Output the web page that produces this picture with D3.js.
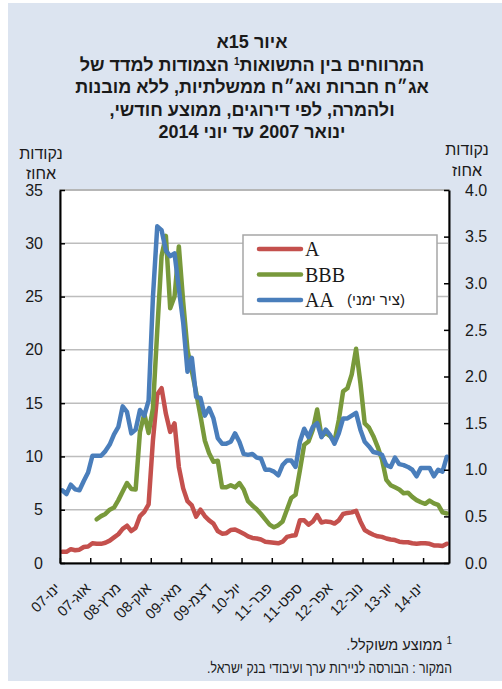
<!DOCTYPE html>
<html>
<head>
<meta charset="utf-8">
<script src="https://cdn.jsdelivr.net/npm/d3@7"></script>
<style>
  body { margin: 0; background: #fff; }
  svg text { fill: #1a1a1a; }
</style>
</head>
<body>
<div id="chart"></div>
<script>
// Month names (Hebrew abbreviations) and years
const monthNames = ["ינו", "פבר", "מרץ", "אפר", "מאי", "יונ", "יול", "אוג", "ספט", "אוק", "נוב", "דצמ"];
const years = ["07", "08", "09", "10", "11", "12", "13", "14"];

// Spreads, monthly average, Jan 2007 - Jun 2014 (A and BBB: left axis, AA: right axis)
const seriesA = [
  1.05, 1.05, 1.3, 1.2, 1.25, 1.5, 1.55, 1.85, 1.8, 1.8, 1.9, 2.1,
  2.4, 2.7, 3.2, 3.5, 3.0, 3.3, 4.4, 4.8, 5.5, 11.5, 15.8, 16.4,
  14.0, 12.3, 13.1, 9.0, 7.0, 5.8, 5.4, 4.35, 5.0, 4.4, 4.0, 3.7,
  3.0, 2.75, 2.8, 3.1, 3.15, 2.95, 2.75, 2.5, 2.35, 2.3, 2.2, 2.0,
  1.95, 1.9, 1.85, 2.0, 2.45, 2.55, 2.6, 4.0, 4.0, 3.6, 3.9, 4.5,
  3.8, 3.9, 3.85, 3.7, 4.0, 4.6, 4.7, 4.75, 4.9, 3.9, 3.1, 2.85,
  2.65, 2.5, 2.45, 2.3, 2.2, 2.15, 2.0, 1.95, 1.95, 1.85, 1.8, 1.85,
  1.85, 1.8, 1.65, 1.65, 1.6, 1.8
];
const seriesBBB = [
  null, null, null, null, null, null, null, null, 4.1, 4.4, 4.6, 5.0,
  5.2, 5.9, 6.7, 7.5, 6.95, 6.9, 12.3, 14.0, 12.2, 14.5, 21.8, 28.8,
  30.7, 23.9, 25.0, 29.7, 24.5, 20.0, 18.0, 16.0, 13.8, 11.5, 10.3, 9.5,
  9.6, 7.1, 7.1, 7.3, 7.1, 7.5, 6.9, 5.8, 5.4, 5.05, 4.6, 4.1,
  3.6, 3.35, 3.55, 3.9, 5.0, 6.1, 6.4, 8.7, 11.1, 11.4, 12.5, 14.4,
  11.9, 12.2, 11.9, 11.4, 13.4, 16.1, 16.4, 17.7, 20.1, 16.9, 13.1, 12.7,
  11.9, 10.9, 9.7, 7.8, 7.3, 7.1, 6.9, 6.55, 6.6, 6.2, 5.9, 5.7,
  5.55, 5.85, 5.6, 5.45, 4.75, 4.65
];
const seriesAA = [
  0.78, 0.74, 0.84, 0.79, 0.78, 0.88, 0.97, 1.15, 1.15, 1.15, 1.2, 1.27,
  1.38, 1.46, 1.68, 1.62, 1.39, 1.43, 1.64, 1.58, 1.74, 2.85, 3.61, 3.57,
  3.35, 3.29, 3.32, 2.94, 2.58, 2.05, 2.2, 1.78, 1.77, 1.58, 1.66, 1.55,
  1.34, 1.28, 1.28, 1.3, 1.39, 1.3, 1.17, 1.16, 1.17, 1.13, 1.12, 1.0,
  1.0, 0.98, 0.94, 1.05, 1.1, 1.1, 1.03, 1.3, 1.44, 1.35, 1.46, 1.5,
  1.35, 1.43, 1.37, 1.28, 1.39, 1.55, 1.55, 1.58, 1.61, 1.43, 1.3, 1.25,
  1.19, 1.18, 1.16, 1.05, 1.03, 1.13, 1.06, 1.05, 1.03, 1.0, 0.93, 1.02,
  1.02, 1.02, 0.93, 1.0, 0.98, 1.14
];

const leftTicks = [0, 5, 10, 15, 20, 25, 30, 35];
const rightTicks = [0, 0.5, 1, 1.5, 2, 2.5, 3, 3.5, 4];
const labelEvery = 7;

const titleLines = [
  "איור 15א",
  "המרווחים בין התשואות",
  "אג\u05F4ח חברות ואג\u05F4ח ממשלתיות, ללא מובנות",
  "ולהמרה, לפי דירוגים, ממוצע חודשי,",
  "ינואר 2007 עד יוני 2014"
];

const SANS = '"Liberation Sans", Arial, sans-serif';
const SERIF = '"Liberation Serif", "Times New Roman", serif';

// Categories: one per month
const categories = [];
years.forEach((y) => monthNames.forEach((m) => categories.push(m + "-" + y)));
categories.length = seriesA.length;

const width = 502;
const height = 689;
const plot = { left: 60, right: 449, top: 190, bottom: 563 };

const svg = d3
  .select("#chart")
  .append("svg")
  .attr("width", width)
  .attr("height", height)
  .style("font-family", SANS);

// Panel background
svg.append("rect").attr("x", 8).attr("y", 3).attr("width", 494).attr("height", 678).attr("fill", "#dce4f0");

// Title
const title = svg.append("g").attr("font-weight", "bold").attr("font-size", 18);
title.selectAll("text")
  .data(titleLines)
  .enter()
  .append("text")
  .attr("x", 252)
  .attr("y", (d, i) => 48 + i * 22.6)
  .attr("direction", "rtl")
  .attr("text-anchor", "middle")
  .each(function (d, i) {
    const t = d3.select(this);
    if (i === 1) {
      t.append("tspan").text(d);
      t.append("tspan").text("1").attr("font-size", 10).attr("dy", -6);
      t.append("tspan").text(" הצמודות למדד של").attr("dy", 6);
    } else {
      t.text(d);
    }
  });

// Unit labels
[[41, 154, "נקודות"], [41, 174, "אחוז"], [467, 150, "נקודות"], [467, 171, "אחוז"]].forEach((u) => {
  svg.append("text").attr("x", u[0]).attr("y", u[1] + 5).attr("text-anchor", "middle")
    .attr("direction", "rtl").attr("font-size", 16).text(u[2]);
});

// Scales
const x = d3.scaleBand().domain(d3.range(categories.length)).range([plot.left, plot.right]);
const xc = (i) => x(i) + x.bandwidth() / 2;
const xEdge = d3.scaleLinear().domain([0, categories.length]).range([plot.left, plot.right]);
const yL = d3.scaleLinear().domain([0, 35]).range([plot.bottom, plot.top]);
const yR = d3.scaleLinear().domain([0, 4]).range([plot.bottom, plot.top]);

// Plot area
svg.append("rect")
  .attr("x", plot.left).attr("y", plot.top)
  .attr("width", plot.right - plot.left).attr("height", plot.bottom - plot.top)
  .attr("fill", "#fff").attr("stroke", "#8c8c8c").attr("stroke-width", 1.5);

// Gridlines
svg.append("g")
  .selectAll("line")
  .data(leftTicks.filter((d) => d > 0))
  .enter()
  .append("line")
  .attr("x1", plot.left).attr("x2", plot.right)
  .attr("y1", (d) => yL(d)).attr("y2", (d) => yL(d))
  .attr("stroke", "#bdbdbd").attr("stroke-width", 1.5);

// Lines
const line = (scale) => d3.line()
  .defined((d) => d != null)
  .x((d, i) => xc(i))
  .y((d) => scale(d));

[[seriesA, yL, "#c4504d"], [seriesBBB, yL, "#78993b"], [seriesAA, yR, "#4a7ebb"]].forEach((s) => {
  svg.append("path")
    .datum(s[0])
    .attr("fill", "none")
    .attr("stroke", s[2])
    .attr("stroke-width", 4.5)
    .attr("stroke-linejoin", "round")
    .attr("stroke-linecap", "round")
    .attr("d", line(s[1]));
});

// Axes
const styleAxis = (g) => {
  g.attr("font-family", null).attr("font-size", null);
  g.selectAll(".domain").attr("stroke", "#000").attr("stroke-width", 2);
  g.selectAll(".tick line").attr("stroke", "#000").attr("stroke-width", 1.5);
  g.selectAll("text").attr("font-size", 16).attr("fill", "#1a1a1a");
};

svg.append("g")
  .attr("transform", `translate(${plot.left},0)`)
  .call(d3.axisLeft(yL).tickValues(leftTicks).tickSize(-5).tickSizeOuter(0).tickPadding(17))
  .call(styleAxis);

svg.append("g")
  .attr("transform", `translate(${plot.right},0)`)
  .call(d3.axisRight(yR).tickValues(rightTicks).tickFormat(d3.format(".1f")).tickSize(-5).tickSizeOuter(0).tickPadding(16))
  .call(styleAxis);

svg.append("g")
  .attr("transform", `translate(0,${plot.bottom})`)
  .call(d3.axisBottom(xEdge).tickValues(d3.range(0, categories.length, labelEvery)).tickSize(-5).tickSizeOuter(0).tickFormat(""))
  .call(styleAxis);

// Category labels, rotated
svg.append("g")
  .selectAll("text")
  .data(categories.map((c, i) => [c, i]).filter((d) => d[1] % labelEvery === 0))
  .enter()
  .append("text")
  .attr("transform", (d) => `translate(${xc(d[1]) - 1},${plot.bottom + 26}) rotate(-45)`)
  .attr("direction", "rtl")
  .attr("text-anchor", "start")
  .attr("font-size", 14.5)
  .text((d) => d[0]);

// Legend
const legend = svg.append("g");
legend.append("rect")
  .attr("x", 243).attr("y", 235).attr("width", 194).attr("height", 79)
  .attr("fill", "#fff").attr("stroke", "#a6a6a6").attr("stroke-width", 1.5);
const legendItems = [["A", "#c4504d"], ["BBB", "#78993b"], ["AA", "#4a7ebb"]];
legendItems.forEach((d, i) => {
  const yy = 249 + i * 25.5;
  legend.append("line").attr("x1", 259).attr("x2", 301).attr("y1", yy).attr("y2", yy)
    .attr("stroke", d[1]).attr("stroke-width", 4.5).attr("stroke-linecap", "round");
  legend.append("text").attr("x", 305).attr("y", yy + 7)
    .style("font-family", SERIF).attr("font-size", 20)
    .text(d[0]);
});
legend.append("text").attr("x", 347).attr("y", 249 + 2 * 25.5 + 5)
  .attr("direction", "rtl").attr("text-anchor", "end").attr("font-size", 15)
  .text("(ציר ימני)");

// Footnotes
const foot = svg.append("g").attr("font-size", 14.5);
const f1 = foot.append("text").attr("x", 452).attr("y", 650).attr("direction", "rtl").attr("text-anchor", "start");
f1.append("tspan").text("1").attr("font-size", 10).attr("dy", -6);
f1.append("tspan").text(" ממוצע משוקלל.").attr("dy", 6);
foot.append("text").attr("x", 452).attr("y", 673).attr("direction", "rtl").attr("text-anchor", "start")
  .attr("textLength", 245).attr("lengthAdjust", "spacingAndGlyphs")
  .text("המקור : הבורסה לניירות ערך ועיבודי בנק ישראל.");
</script>
</body>
</html>
